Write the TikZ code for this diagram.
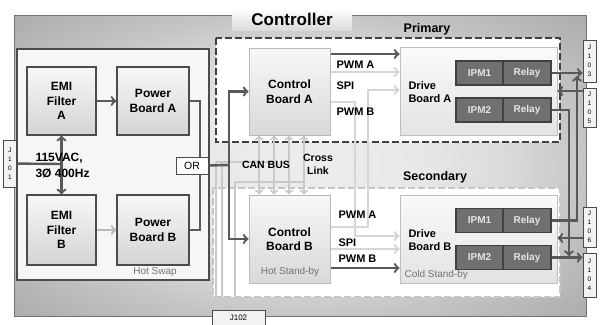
\documentclass[tikz,border=0pt]{standalone}
\usepackage{fontspec}
\setmainfont{Liberation Sans}
\usepackage{tikz}
\pgfdeclareradialshading{ctrlfill}{\pgfpoint{0bp}{0bp}}{color(0bp)=(gray!14); color(10bp)=(gray!18); color(17bp)=(gray!27); color(22bp)=(gray!38); color(25bp)=(gray!45); color(30bp)=(gray!55); color(36bp)=(gray!66); color(50bp)=(gray!70)}

\tikzset{
  board/.style={draw=black!70, line width=1.3pt, top color=gray!6, bottom color=gray!34,
    font=\bfseries\fontsize{12}{14.5}\selectfont, align=center, inner sep=0pt},
  ctrl/.style={draw=gray!55, line width=1pt, top color=gray!6, bottom color=gray!30,
    font=\bfseries\fontsize{12}{14.5}\selectfont, align=center, inner sep=0pt,
    minimum width=81, minimum height=87},
  drive/.style={draw=gray!50, line width=1pt, top color=gray!4, bottom color=gray!22,
    minimum width=157, minimum height=88, inner sep=0pt},
  ipm/.style={draw=black!75, line width=1.3pt, fill=black!56, text=white!90!black,
    font=\bfseries\fontsize{10}{12}\selectfont, minimum width=47, minimum height=24, inner sep=0pt},
  jbox/.style={draw=black!70, line width=1pt, fill=gray!10, font=\fontsize{6.5}{9}\selectfont,
    align=center, inner sep=0pt, minimum width=13},
  txt/.style={font=\bfseries\fontsize{11}{13}\selectfont},
  grp/.style={font=\bfseries\fontsize{12.5}{14}\selectfont},
  note/.style={text=black!55, font=\fontsize{10}{12}\selectfont},
  pwr/.style={draw=black!65, line width=2.4pt},
  pwrlt/.style={draw=gray!55, line width=2.4pt},
  sig/.style={draw=gray!32, line width=2.4pt},
  canl/.style={draw=gray!42, line width=2pt}
}

\begin{document}
\begin{tikzpicture}[x=1pt,y=-1pt]
\useasboundingbox (0,0) rectangle (604,324);
\clip (0,0) rectangle (604,324);

% controller frame
\shade[shading=ctrlfill] (14,15) rectangle (586,316);
\draw[black!55, line width=0.8pt] (14,15) rectangle (586,316);
\node[top color=white, bottom color=gray!28, minimum width=120, minimum height=22,
  font=\bfseries\fontsize{17}{19}\selectfont] (title) at (292,19) {Controller};

% hot swap side
\filldraw[draw=black!70, fill=gray!7, line width=1.2pt] (17,49) rectangle (209,280);
\node[note] (hotswap) at (155,272) {Hot Swap};

% primary and secondary
\filldraw[draw=black!75, fill=white, line width=1.8pt, dash pattern=on 7pt off 3pt] (216,38) rectangle (560,142);
\filldraw[draw=gray!45, fill=white, line width=1.8pt, dash pattern=on 7pt off 3pt] (213,188) rectangle (560,297);
\node[grp] (prim) at (427,29) {Primary};
\node[grp] (sec) at (435,177) {Secondary};

% boards
\node[board, minimum width=69, minimum height=68] (emiA) at (61.5,101) {EMI\\Filter\\A};
\node[board, minimum width=72, minimum height=68] (pwrA) at (153,101) {Power\\Board A};
\node[board, minimum width=69, minimum height=70] (emiB) at (61.5,230) {EMI\\Filter\\B};
\node[board, minimum width=72, minimum height=70] (pwrB) at (153,230) {Power\\Board B};
\node[draw=black!70, line width=1pt, fill=white, minimum width=32, minimum height=17, inner sep=0pt,
  font=\fontsize{10.5}{12}\selectfont] (orbox) at (192,165.5) {OR};

\node[ctrl] (ctrlA) at (289.5,91.5) {Control\\Board A};
\node[ctrl, minimum height=88] (ctrlB) at (289.5,239) {Control\\Board B};
\node[note] (hotsb) at (290,272) {Hot Stand-by};

\node[drive] (drvA) at (478.5,91) {};
\node[drive] (drvB) at (478.5,239) {};
\node[txt, anchor=west, align=left] (drvAtxt) at (405,92) {Drive\\Board A};
\node[txt, anchor=west, align=left] (drvBtxt) at (405,240) {Drive\\Board B};
\node[note, anchor=west] (coldsb) at (401,275) {Cold Stand-by};

\node[ipm] (ipmA1) at (479.5,73) {IPM1};
\node[ipm, minimum width=48] (relA1) at (527,73) {Relay};
\node[ipm] (ipmA2) at (479.5,110) {IPM2};
\node[ipm, minimum width=48] (relA2) at (527,110) {Relay};
\node[ipm] (ipmB1) at (479.5,220.5) {IPM1};
\node[ipm, minimum width=48] (relB1) at (527,220.5) {Relay};
\node[ipm] (ipmB2) at (479.5,257.5) {IPM2};
\node[ipm, minimum width=48] (relB2) at (527,257.5) {Relay};

% connectors
\node[jbox, minimum height=47] (j101) at (10,163.5) {J\\1\\0\\1};
\node[jbox, minimum width=53, minimum height=16, font=\fontsize{8}{9}\selectfont] (j102) at (238.5,318) {J102};
\node[jbox, minimum height=42] (j103) at (589.5,61) {J\\1\\0\\3};
\node[jbox, minimum height=39] (j105) at (589.5,107.5) {J\\1\\0\\5};
\node[jbox, minimum height=40] (j106) at (589.5,227) {J\\1\\0\\6};
\node[jbox, minimum height=44] (j104) at (589.5,275) {J\\1\\0\\4};

% CAN bus and cross link
\draw[canl] (216,162) -- (274,162);
\draw[canl] (235,182) -- (304,182);
\foreach \x in {259,274,289,304}
  \draw[canl,<->] (ctrlA.south -| \x,0) -- (ctrlB.north -| \x,0);
\foreach \x/\y in {216/162,222/162,235/182}
  \draw[canl,->] (\x,\y) -- (\x,0 |- j102.north);

% power path
\coordinate (acin) at (62,164);
\coordinate (bus) at (229,165);
\draw[pwr] (j101) -- (acin);
\draw[pwr,<->] (emiA) -- (emiB);
\draw[pwr,->] (emiA) -- (pwrA);
\draw[pwrlt,->] (emiB) -- (pwrB);
\draw[pwr] (pwrA.east) -| ([xshift=8pt]orbox.north);
\draw[pwr] (pwrB.east) -| ([xshift=8pt]orbox.south);
\draw[pwr] (orbox.east) -- (bus);
\draw[pwr,->] (bus) |- (ctrlA);
\draw[pwr,->] (bus) |- (ctrlB);
\node[font=\bfseries\fontsize{12}{16}\selectfont, anchor=west, align=left] (acintxt) at (32,166) {115VAC,\\3Ø 400Hz};

% signals
\draw[sig,->] (ctrlA.east |- 0,102) -| (355,236) -- (drvB.west |- 0,236);
\draw[sig,->] (ctrlB.east |- 0,227) -| (368,90) -- (drvA.west |- 0,90);
\draw[sig,->] (ctrlA.east |- 0,72) -- (drvA.west |- 0,72);
\draw[sig,->] (ctrlB.east |- 0,249) -- (drvB.west |- 0,249);
\draw[pwr,->] (ctrlA.east |- 0,54) -- (drvA.west |- 0,54);
\draw[pwr,->] (ctrlB.east |- 0,268) -- (drvB.west |- 0,268);
\node[txt, anchor=west] (pwmaA) at (333,65) {PWM A};
\node[txt, anchor=west] (spiA) at (333,86) {SPI};
\node[txt, anchor=west] (pwmbA) at (333,112) {PWM B};
\node[txt, anchor=west] (pwmaB) at (335,215) {PWM A};
\node[txt, anchor=west] (spiB) at (335,243) {SPI};
\node[txt, anchor=west] (pwmbB) at (335,259) {PWM B};
\node[txt, font=\bfseries\fontsize{10.5}{12}\selectfont] (can) at (266,165) {CAN BUS};
\node[txt, font=\bfseries\fontsize{10.5}{13}\selectfont, align=center] (cross) at (318,164) {Cross\\Link};

% outputs
\draw[pwr,->] (relA1) -- (j103.west |- relA1);
\draw[pwr,->] (relB1.east) -| (577,76);
\draw[pwr,->] (relA2.east) -| (569,256);
\draw[pwr,->] (relB2) -- (j104.west |- relB2);
\draw[pwr,->] (j105.west |- 0,91) -- (drvA.east |- 0,91);
\draw[pwr,->] (j106.west |- 0,238) -- (drvB.east |- 0,238);
\end{tikzpicture}
\end{document}
